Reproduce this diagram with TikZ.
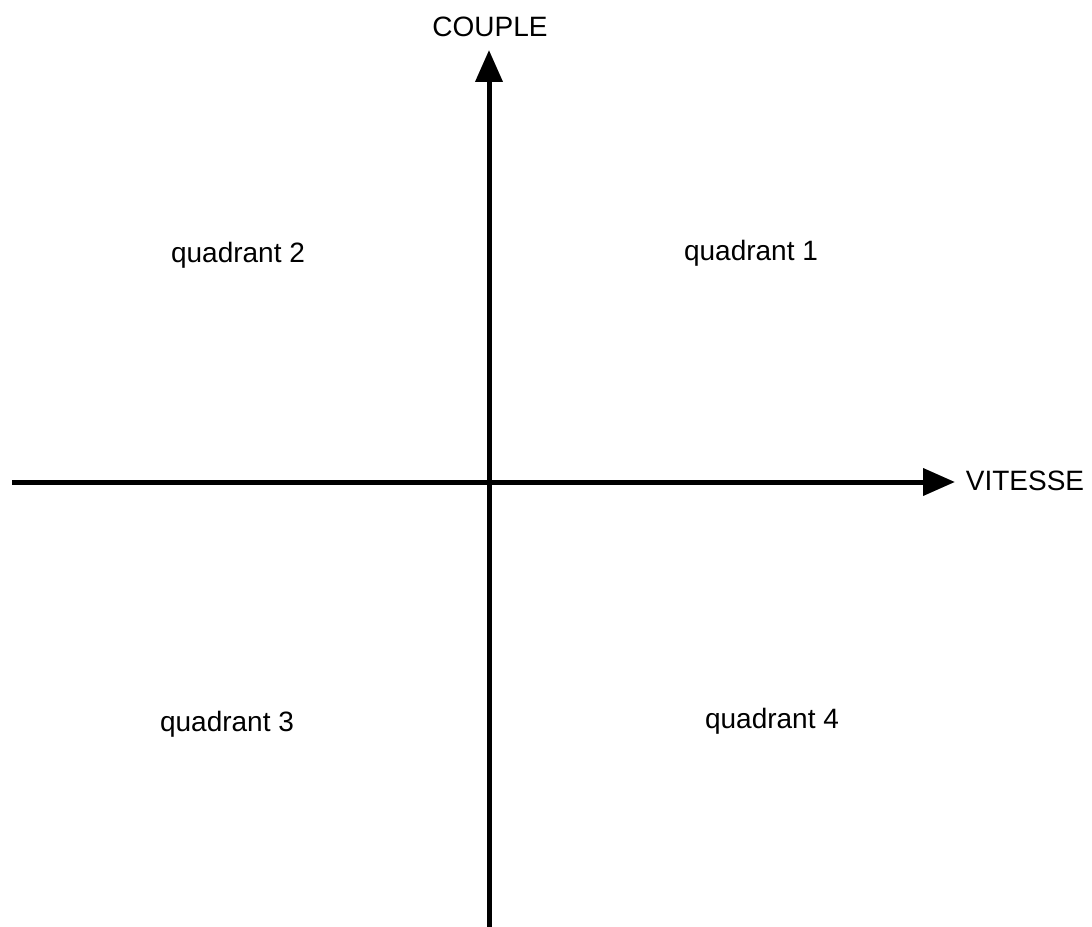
\documentclass[tikz,border=0pt]{standalone}
\usepackage{fontspec}
\setmainfont{Liberation Sans}
\usetikzlibrary{arrows.meta}
\begin{document}
\begin{tikzpicture}[x=0.75pt,y=-0.75pt,
  axis/.style={line width=3.75pt,-{Triangle[length=24pt,width=20pt]}},
  lbl/.style={font=\fontsize{21pt}{25pt}\selectfont,anchor=base,inner sep=0pt}]
\useasboundingbox (0,0) rectangle (1092,927);
\coordinate (xs) at (12,482);
\coordinate (xe) at (955,482);
\coordinate (ys) at (489,927);
\coordinate (ye) at (489,50);
\draw[axis] (xs) -- (xe);
\draw[axis] (ys) -- (ye);
\node[lbl] (couple) at (490,37) {COUPLE};
\node[lbl] (vitesse) at (1025,490) {VITESSE};
\node[lbl] (q1) at (751,261) {quadrant 1};
\node[lbl] (q2) at (238,263) {quadrant 2};
\node[lbl] (q3) at (227,731) {quadrant 3};
\node[lbl] (q4) at (772,728) {quadrant 4};
\end{tikzpicture}
\end{document}
